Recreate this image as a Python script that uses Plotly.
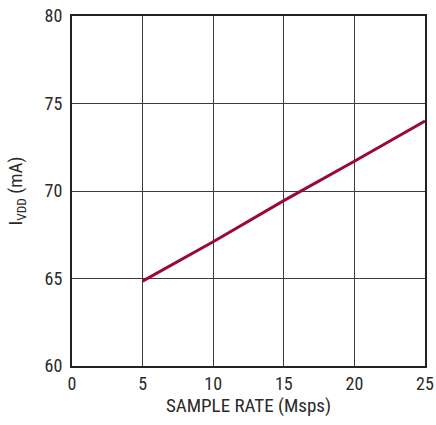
import plotly.graph_objects as go

sample_rate = [5, 10, 15, 20, 25]
i_vdd = [64.85, 67.1, 69.45, 71.7, 74.0]
x_ticks = [0, 5, 10, 15, 20, 25]
y_ticks = [60, 65, 70, 75, 80]

font_family = "Roboto Condensed, Liberation Sans Narrow, Arial Narrow, sans-serif"

fig = go.Figure()
fig.add_trace(go.Scatter(x=sample_rate, y=i_vdd, mode="lines",
                         line=dict(color="#9B0A36", width=3), showlegend=False))

fig.update_layout(
    width=436, height=425,
    margin=dict(l=72, r=11, t=16, b=59, autoexpand=False),
    paper_bgcolor="white", plot_bgcolor="white",
    font=dict(family=font_family, size=18, color="#2a2a2a"),
)
fig.update_xaxes(range=[0, 25], tickvals=x_ticks, showgrid=True, gridcolor="#3a3a3a", gridwidth=1,
                 showline=True, linecolor="#222", linewidth=2, mirror=True,
                 ticks="", zeroline=False, automargin=False,
                 title=dict(text="SAMPLE RATE (Msps)", standoff=6, font=dict(size=19)))
fig.update_yaxes(range=[60, 80], tickvals=y_ticks, showgrid=True, gridcolor="#3a3a3a", gridwidth=1,
                 showline=True, linecolor="#222", linewidth=2, mirror=True,
                 ticks="", zeroline=False, automargin=False, ticklabelstandoff=4,
                 title=dict(text="I<sub>VDD</sub> (mA)", standoff=17, font=dict(size=19)))

fig.write_html("out.html", config={"displayModeBar": False},
               post_script="document.body.style.margin='0';")
